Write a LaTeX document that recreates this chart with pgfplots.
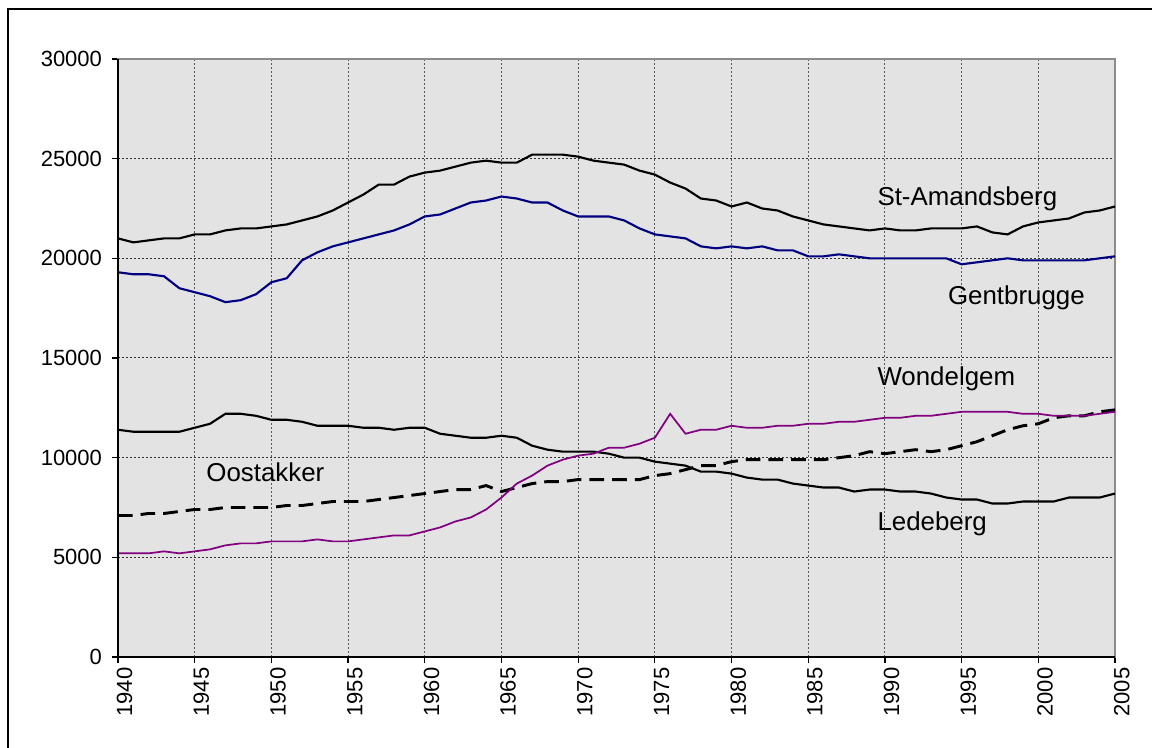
\documentclass[border=0pt]{standalone}
\usepackage{pgfplots}
\pgfplotsset{compat=1.18}
\usepackage{pgfplotstable}
\usepackage{fontspec}
\setmainfont{Liberation Sans}
\definecolor{plotbg}{RGB}{227,227,227}
\definecolor{gentblue}{RGB}{0,0,128}
\definecolor{wonpurple}{RGB}{128,0,128}
\pgfplotstableread{
year StA Gent Led Won Oos
1940 21000 19300 11400 5200 7100
1941 20800 19200 11300 5200 7100
1942 20900 19200 11300 5200 7200
1943 21000 19100 11300 5300 7200
1944 21000 18500 11300 5200 7300
1945 21200 18300 11500 5300 7400
1946 21200 18100 11700 5400 7400
1947 21400 17800 12200 5600 7500
1948 21500 17900 12200 5700 7500
1949 21500 18200 12100 5700 7500
1950 21600 18800 11900 5800 7500
1951 21700 19000 11900 5800 7600
1952 21900 19900 11800 5800 7600
1953 22100 20300 11600 5900 7700
1954 22400 20600 11600 5800 7800
1955 22800 20800 11600 5800 7800
1956 23200 21000 11500 5900 7800
1957 23700 21200 11500 6000 7900
1958 23700 21400 11400 6100 8000
1959 24100 21700 11500 6100 8100
1960 24300 22100 11500 6300 8200
1961 24400 22200 11200 6500 8300
1962 24600 22500 11100 6800 8400
1963 24800 22800 11000 7000 8400
1964 24900 22900 11000 7400 8600
1965 24800 23100 11100 8000 8300
1966 24800 23000 11000 8700 8500
1967 25200 22800 10600 9100 8700
1968 25200 22800 10400 9600 8800
1969 25200 22400 10300 9900 8800
1970 25100 22100 10300 10100 8900
1971 24900 22100 10300 10200 8900
1972 24800 22100 10200 10500 8900
1973 24700 21900 10000 10500 8900
1974 24400 21500 10000 10700 8900
1975 24200 21200 9800 11000 9100
1976 23800 21100 9700 12200 9200
1977 23500 21000 9600 11200 9400
1978 23000 20600 9300 11400 9600
1979 22900 20500 9300 11400 9600
1980 22600 20600 9200 11600 9800
1981 22800 20500 9000 11500 9900
1982 22500 20600 8900 11500 9900
1983 22400 20400 8900 11600 9900
1984 22100 20400 8700 11600 9900
1985 21900 20100 8600 11700 9900
1986 21700 20100 8500 11700 9900
1987 21600 20200 8500 11800 10000
1988 21500 20100 8300 11800 10100
1989 21400 20000 8400 11900 10300
1990 21500 20000 8400 12000 10200
1991 21400 20000 8300 12000 10300
1992 21400 20000 8300 12100 10400
1993 21500 20000 8200 12100 10300
1994 21500 20000 8000 12200 10400
1995 21500 19700 7900 12300 10600
1996 21600 19800 7900 12300 10800
1997 21300 19900 7700 12300 11100
1998 21200 20000 7700 12300 11400
1999 21600 19900 7800 12200 11600
2000 21800 19900 7800 12200 11700
2001 21900 19900 7800 12100 12000
2002 22000 19900 8000 12100 12100
2003 22300 19900 8000 12100 12100
2004 22400 20000 8000 12200 12300
2005 22600 20100 8200 12300 12400
}\datatable
\begin{document}
\begin{tikzpicture}
\useasboundingbox (0,0) rectangle (864pt,561pt);
\draw[black, line width=0.9pt] (6pt,-10pt) -- (6pt,554.25pt) -- (880pt,554.25pt);
\begin{axis}[
  at={(88.5pt,68.25pt)}, anchor=south west,
  scale only axis, width=747.75pt, height=448.5pt,
  xmin=1940, xmax=2005, ymin=0, ymax=30000,
  xtick={1940,1945,...,2005}, ytick={0,5000,...,30000},
  axis background/.style={fill=plotbg},
  axis line style={draw=gray!90, line width=1.4pt},
  xmajorgrids, ymajorgrids,
  x grid style={black!65, dash pattern=on 1.5pt off 1.5pt, line width=0.75pt},
  y grid style={black!80, dash pattern=on 1.5pt off 1.5pt, line width=0.75pt},
  tick align=outside, major tick length=4.5pt,
  xtick pos=bottom, ytick pos=left,
  tick style={black, line width=0.9pt},
  scaled y ticks=false,
  /pgf/number format/1000 sep={},
  /pgf/number format/assume math mode=true,
  tick label style={font=\fontsize{16.5}{19}\selectfont},
  yticklabel style={xshift=-4pt},
  xticklabel style={rotate=90, anchor=east, yshift=-5pt},
  clip=false,
]
\addplot[black, line width=2.2pt, dash pattern=on 11pt off 6pt] table[x=year, y=Oos] {\datatable};
\addplot[black, line width=1.6pt] table[x=year, y=StA] {\datatable};
\addplot[gentblue, line width=1.6pt] table[x=year, y=Gent] {\datatable};
\addplot[black, line width=1.6pt] table[x=year, y=Led] {\datatable};
\addplot[wonpurple, line width=1.3pt] table[x=year, y=Won] {\datatable};
\draw[black, line width=1.4pt] (rel axis cs:0,1) -- (rel axis cs:0,0) -- (rel axis cs:1,0);
\begin{scope}[every node/.style={anchor=base west, inner sep=0pt, font=\fontsize{19.4}{23}\selectfont}]
\node at (axis cs:1989.5,22630) {St-Amandsberg};
\node at (axis cs:1994.1,17690) {Gentbrugge};
\node at (axis cs:1989.5,13600) {Wondelgem};
\node at (axis cs:1945.75,8800) {Oostakker};
\node at (axis cs:1989.5,6370) {Ledeberg};
\end{scope}
\end{axis}
\end{tikzpicture}
\end{document}
